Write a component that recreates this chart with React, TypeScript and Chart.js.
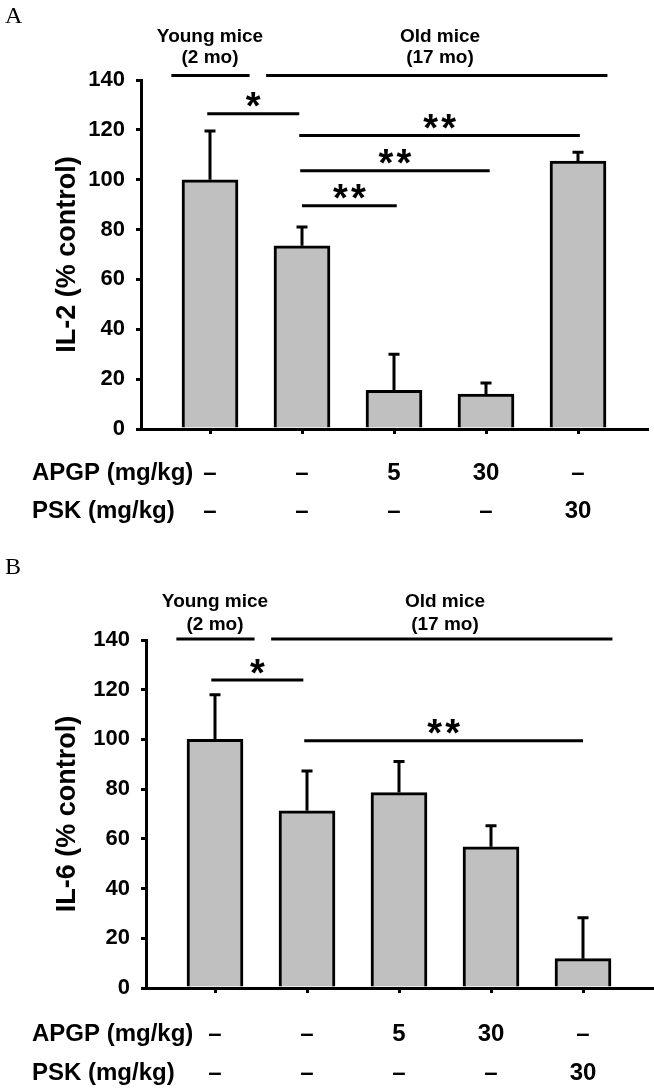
import React, { useEffect, useRef } from 'react';
import { Chart, registerables } from 'chart.js';

Chart.register(...registerables);

// ---------- data ----------
const categories = ['Young', 'Old', 'Old + APGP 5', 'Old + APGP 30', 'Old + PSK 30'];
const apgpDoses = ['–', '–', '5', '30', '–'];
const pskDoses = ['–', '–', '–', '–', '30'];
const il2Means = [100, 73.5, 15.5, 14, 107.5];
const il2Errors = [19.5, 7.5, 14.5, 4.5, 3.5];
const il6Means = [100, 71.3, 78.6, 56.8, 11.8];
const il6Errors = [18, 16, 12.5, 8.5, 16.5];
const groupTitles = ['Young mice', 'Old mice'];
const groupSubtitles = ['(2 mo)', '(17 mo)'];
const groupCenters = [0, 2.5];
const groupStarts = [-0.42, 0.61];
const groupEnds = [0.43, 4.32];
const il2SigFrom = [-0.03, 0.97, 0.98, 1.0];
const il2SigTo = [0.97, 4.02, 3.04, 2.03];
const il2SigLevel = [126.5, 117.7, 103.6, 89.6];
const il2SigStars = ['*', '**', '**', '**'];
const il6SigFrom = [-0.04, 0.97];
const il6SigTo = [0.96, 4.0];
const il6SigLevel = [123.9, 99.5];
const il6SigStars = ['*', '**'];
const yMin = 0;
const yMax = 140;
const yStep = 20;

const SANS = '"Liberation Sans", Arial, Helvetica, sans-serif';
const SERIF = '"Liberation Serif", "DejaVu Serif", serif';
const W = 654;
const H = 544;

type Panel = {
  letter: string;
  yTitle: string;
  means: number[];
  errors: number[];
  sigFrom: number[];
  sigTo: number[];
  sigLevel: number[];
  sigStars: string[];
  left: number;
  right: number;
  top: number;
  bottom: number;
  headerLine: number;
  titleY: number;
  subY: number;
  letterBase: number;
  row1: number;
  row2: number;
};

const panels: Panel[] = [
  {
    letter: 'A', yTitle: 'IL-2 (% control)', means: il2Means, errors: il2Errors,
    sigFrom: il2SigFrom, sigTo: il2SigTo, sigLevel: il2SigLevel, sigStars: il2SigStars,
    left: 141, right: 647, top: 80, bottom: 429, headerLine: 141.8,
    titleY: 37, subY: 58, letterBase: 23, row1: 44, row2: 82,
  },
  {
    letter: 'B', yTitle: 'IL-6 (% control)', means: il6Means, errors: il6Errors,
    sigFrom: il6SigFrom, sigTo: il6SigTo, sigLevel: il6SigLevel, sigStars: il6SigStars,
    left: 146, right: 652, top: 96, bottom: 444, headerLine: 140.4,
    titleY: 58, subY: 81, letterBase: 30, row1: 46, row2: 85,
  },
];

function makeConfig(p: Panel): any {
  const overlay = {
    id: 'overlay',
    afterDatasetsDraw(chart: any) {
      const ctx = chart.ctx;
      const ys = chart.scales.y;
      const meta = chart.getDatasetMeta(0);
      ctx.save();
      ctx.strokeStyle = '#000';
      ctx.lineWidth = 3;
      meta.data.forEach((el: any, i: number) => {
        const top = ys.getPixelForValue(p.means[i] + p.errors[i]);
        ctx.beginPath();
        ctx.moveTo(el.x, el.y);
        ctx.lineTo(el.x, top);
        ctx.moveTo(el.x - 5.5, top);
        ctx.lineTo(el.x + 5.5, top);
        ctx.stroke();
      });
      ctx.restore();
    },
    afterDraw(chart: any) {
      const ctx = chart.ctx;
      const xs = chart.scales.x;
      const ys = chart.scales.y;
      const area = chart.chartArea;
      ctx.save();
      ctx.fillStyle = '#000';
      ctx.strokeStyle = '#000';
      // panel letter
      ctx.font = '24px ' + SERIF;
      ctx.textAlign = 'left';
      ctx.textBaseline = 'alphabetic';
      ctx.fillText(p.letter, 5, p.letterBase);
      // group headers
      ctx.font = 'bold 19px ' + SANS;
      ctx.textAlign = 'center';
      ctx.textBaseline = 'middle';
      const hy = ys.getPixelForValue(p.headerLine);
      groupTitles.forEach((t, g) => {
        const cx = xs.getPixelForValue(groupCenters[g]);
        ctx.fillText(t, cx, p.titleY);
        ctx.fillText(groupSubtitles[g], cx, p.subY);
        ctx.lineWidth = 3;
        ctx.beginPath();
        ctx.moveTo(xs.getPixelForValue(groupStarts[g]), hy);
        ctx.lineTo(xs.getPixelForValue(groupEnds[g]), hy);
        ctx.stroke();
      });
      // significance brackets
      ctx.font = 'bold 38px ' + SANS;
      ctx.textAlign = 'center';
      ctx.textBaseline = 'alphabetic';
      const m = ctx.measureText('*');
      const asc = m.actualBoundingBoxAscent;
      const desc = m.actualBoundingBoxDescent;
      p.sigLevel.forEach((lv, k) => {
        const x1 = xs.getPixelForValue(p.sigFrom[k]);
        const x2 = xs.getPixelForValue(p.sigTo[k]);
        const ly = ys.getPixelForValue(lv);
        ctx.lineWidth = 3;
        ctx.beginPath();
        ctx.moveTo(x1, ly);
        ctx.lineTo(x2, ly);
        ctx.stroke();
        const n = p.sigStars[k].length;
        const cx = (x1 + x2) / 2;
        const cy = ly - 14;
        const base = cy - (desc - asc) / 2;
        for (let s = 0; s < n; s++) {
          ctx.fillText('*', cx + (s - (n - 1) / 2) * 18, base);
        }
      });
      // dose rows
      ctx.font = 'bold 24px ' + SANS;
      ctx.textBaseline = 'middle';
      const r1 = area.bottom + p.row1;
      const r2 = area.bottom + p.row2;
      ctx.textAlign = 'left';
      ctx.fillText('APGP (mg/kg)', 32, r1);
      ctx.fillText('PSK (mg/kg)', 32, r2);
      ctx.textAlign = 'center';
      categories.forEach((_, i) => {
        const cx = xs.getPixelForValue(i);
        ctx.fillText(apgpDoses[i], cx, r1);
        ctx.fillText(pskDoses[i], cx, r2);
      });
      ctx.restore();
    },
  };

  return {
    type: 'bar',
    data: {
      labels: categories,
      datasets: [
        {
          label: p.yTitle,
          data: p.means.map((v, i) => ({ x: i, y: v })),
          backgroundColor: '#c0c0c0',
          borderColor: '#000',
          borderWidth: 3,
          borderSkipped: 'bottom',
          barThickness: 56,
        },
      ],
    },
    options: {
      responsive: false,
      animation: false,
      devicePixelRatio: 1,
      layout: { padding: { top: p.top, right: W - p.right, left: 0, bottom: 0 } },
      plugins: { legend: { display: false }, tooltip: { enabled: false } },
      scales: {
        x: {
          type: 'linear',
          min: -0.75,
          max: 4.75,
          offset: false,
          ticks: { display: false, stepSize: 1, includeBounds: false },
          grid: { offset: false, drawOnChartArea: false, drawTicks: true, tickLength: 5, lineWidth: 3, color: '#000' },
          border: { display: true, color: '#000', width: 3 },
          afterFit: (s: any) => { s.height = H - p.bottom; },
        },
        y: {
          min: yMin,
          max: yMax,
          ticks: { stepSize: yStep, color: '#000', padding: 11, font: { family: SANS, size: 22, weight: 'bold' } },
          grid: { drawOnChartArea: false, drawTicks: true, tickLength: 5, lineWidth: 3, color: '#000' },
          border: { display: true, color: '#000', width: 3 },
          title: {
            display: true,
            text: p.yTitle,
            color: '#000',
            font: { family: SANS, size: 27, weight: 'bold' },
            padding: { top: 51, bottom: 0 },
          },
          afterFit: (s: any) => { s.width = p.left; },
        },
      },
    },
    plugins: [overlay],
  };
}

function PanelChart({ panel, top }: { panel: Panel; top: number }) {
  const ref = useRef<HTMLCanvasElement | null>(null);
  useEffect(() => {
    if (!ref.current) return;
    const chart = new Chart(ref.current, makeConfig(panel));
    return () => chart.destroy();
  }, [panel]);
  return (
    <canvas
      ref={ref}
      width={W}
      height={H}
      style={{ position: 'absolute', left: 0, top, width: W, height: H, display: 'block' }}
    />
  );
}

export default function App() {
  return (
    <div style={{ position: 'absolute', left: 0, top: 0, width: W, height: 2 * H, background: '#fff' }}>
      <PanelChart panel={panels[0]} top={0} />
      <PanelChart panel={panels[1]} top={H} />
    </div>
  );
}
